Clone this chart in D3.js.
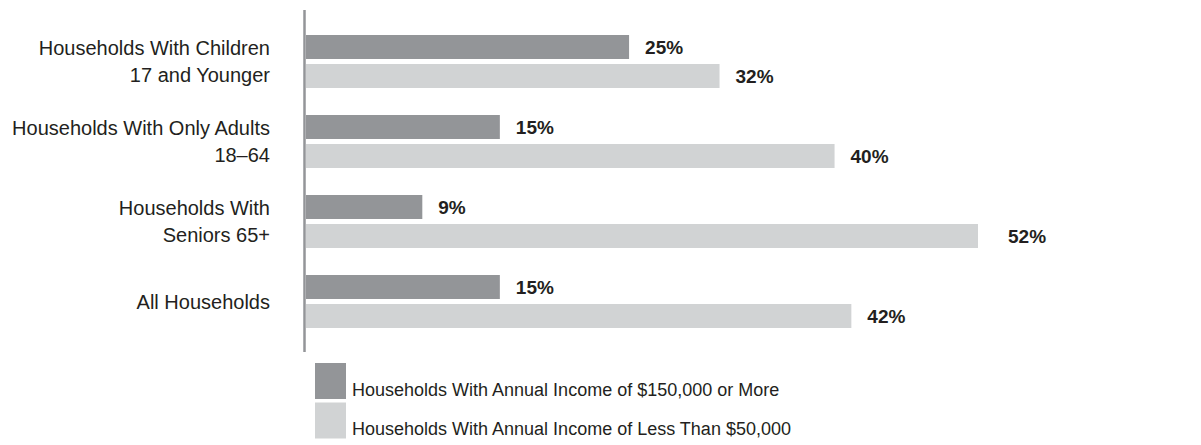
<!DOCTYPE html>
<html>
<head>
<meta charset="utf-8">
<script src="https://cdn.jsdelivr.net/npm/d3@7"></script>
<style>
  body { margin: 0; background: #fff; }
  text { font-family: "Liberation Sans", Arial, sans-serif; fill: #231f20; }
</style>
</head>
<body>
<div id="chart"></div>
<script>
const categories = [
    ["Households With Children", "17 and Younger"],
    ["Households With Only Adults", "18\u201364"],
    ["Households With", "Seniors 65+"],
    ["All Households"]
];
const seriesNames = [
    "Households With Annual Income of $150,000 or More",
    "Households With Annual Income of Less Than $50,000"
];
// bar lengths
const highIncome = [25, 15, 9, 15];
const lowIncome = [32, 40.9, 52, 42.2];
// printed labels
const highLabels = ["25%", "15%", "9%", "15%"];
const lowLabels = ["32%", "40%", "52%", "42%"];

const width = 1201;
const height = 445;
const colors = ["#939598", "#d1d3d4"];

const svg = d3.select("#chart")
    .append("svg")
    .attr("width", width)
    .attr("height", height);

const keys = categories.map((c, i) => i);
const rows = keys.map(i => ({
    cat: categories[i],
    bars: [
        { s: 0, v: highIncome[i], label: highLabels[i] },
        { s: 1, v: lowIncome[i], label: lowLabels[i] }
    ]
}));

const x = d3.scaleLinear()
    .domain([0, 52])
    .range([306, 978]);

const y0 = d3.scaleBand()
    .domain(keys)
    .range([35, 328])
    .paddingInner(0.3375)
    .paddingOuter(0);

const y1 = d3.scaleBand()
    .domain([0, 1])
    .range([0, y0.bandwidth()])
    .paddingInner(5 / 29);

const groups = svg.selectAll(".group")
    .data(rows)
    .enter()
    .append("g")
    .attr("class", "group")
    .attr("transform", (d, i) => `translate(0, ${y0(i)})`);

groups.selectAll("rect")
    .data(d => d.bars)
    .enter()
    .append("rect")
    .attr("x", x(0))
    .attr("y", d => y1(d.s))
    .attr("width", d => x(d.v) - x(0))
    .attr("height", y1.bandwidth())
    .attr("fill", d => colors[d.s]);

// the 52% label sits a bit further out in the original
const nudge = { "52%": 14 };

groups.selectAll(".val")
    .data(d => d.bars)
    .enter()
    .append("text")
    .attr("class", "val")
    .attr("x", d => x(d.v) + 16 + (nudge[d.label] || 0))
    .attr("y", d => y1(d.s) + y1.bandwidth() / 2 + 7)
    .style("font-size", "19px")
    .style("font-weight", "bold")
    .text(d => d.label);

// category labels, one or two lines, centred on the group
groups.each(function (d) {
    const lines = d.cat;
    const lh = 26.7;
    const mid = y0.bandwidth() / 2;
    const t = d3.select(this).append("text")
        .attr("text-anchor", "end")
        .style("font-size", "20px");
    lines.forEach((line, k) => {
        t.append("tspan")
            .attr("x", 270)
            .attr("y", mid + 7 + (k - (lines.length - 1) / 2) * lh)
            .text(line);
    });
});

// vertical axis line
svg.append("line")
    .attr("x1", 304.5)
    .attr("x2", 304.5)
    .attr("y1", 10)
    .attr("y2", 352)
    .attr("stroke", "#939598")
    .attr("stroke-width", 2.5);

// legend
const legend = svg.selectAll(".legend")
    .data(seriesNames)
    .enter()
    .append("g")
    .attr("class", "legend")
    .attr("transform", (d, i) => `translate(315, ${363 + i * 39.5})`);

legend.append("rect")
    .attr("width", 31)
    .attr("height", 36)
    .attr("fill", (d, i) => colors[i]);

legend.append("text")
    .attr("x", 37)
    .attr("y", 32.5)
    .style("font-size", "18px")
    .text(d => d);
</script>
</body>
</html>
